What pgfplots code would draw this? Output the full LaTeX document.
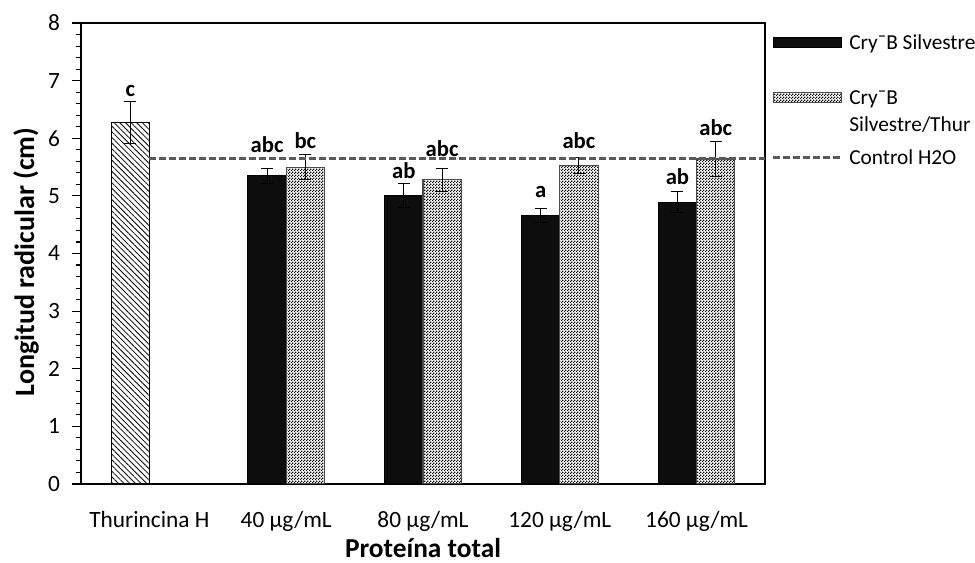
\documentclass[border=0pt]{standalone}
\usepackage{fontspec}
\setmainfont{Carlito}
\usepackage{pgfplots}
\usepackage{pgfplotstable}
\pgfplotsset{compat=1.18}
\usetikzlibrary{patterns.meta}

% small black/white checks for the Silvestre/Thur bars
\pgfdeclarepattern{name=checks, type=uncolored,
  bottom left={\pgfpointorigin}, top right={\pgfpoint{2pt}{2pt}},
  tile size={\pgfpoint{2pt}{2pt}},
  code={\pgfpathrectangle{\pgfpointorigin}{\pgfpoint{1pt}{1pt}}
        \pgfpathrectangle{\pgfpoint{1pt}{1pt}}{\pgfpoint{1pt}{1pt}}
        \pgfusepath{fill}}}

\pgfplotsset{
  barleg/.style={legend image code/.code={\draw[##1, line width=0.8pt] (0pt,1pt) rectangle (51pt,9pt);}},
  lineleg/.style={legend image code/.code={\draw[##1] (0pt,5pt) -- (51pt,5pt);}},
}

\pgfplotstableread{
x y e
0 6.27 0.36
}\thur
\pgfplotstableread{
x y e
1 5.35 0.13
2 5.01 0.21
3 4.66 0.12
4 4.89 0.18
}\silv
\pgfplotstableread{
x y e
1 5.50 0.21
2 5.28 0.20
3 5.53 0.14
4 5.64 0.31
}\silvthur
\pgfplotstableread{
x y lab
-0.14 6.72 c
0.86 5.75 abc
1.14 5.82 bc
1.86 5.31 ab
2.14 5.68 abc
2.86 4.97 a
3.14 5.83 abc
3.86 5.19 ab
4.14 6.05 abc
}\letters

\begin{document}
\begin{tikzpicture}
\begin{axis}[
  scale only axis,
  width=513pt, height=345.75pt,
  xmin=-0.5, xmax=4.5, ymin=0, ymax=8,
  xtick={0,...,4},
  xticklabels={Thurincina H, 40 µg/mL, 80 µg/mL, 120 µg/mL, 160 µg/mL},
  x tick style={draw=none},
  ytick={0,...,8},
  minor y tick num=4,
  tick align=outside,
  ytick pos=left,
  major tick length=6.5pt,
  minor tick length=3.75pt,
  y tick style={line width=0.8pt, black},
  axis line style={line width=1.1pt},
  /pgf/number format/assume math mode=true,
  ticklabel style={font=\fontsize{17.5}{20}\selectfont},
  xticklabel style={anchor=base, yshift=-26pt},
  yticklabel style={anchor=east, inner sep=0pt, xshift=-9pt},
  xlabel={Proteína total},
  ylabel={Longitud radicular (cm)},
  every axis x label/.style={at={(axis description cs:0.5,0)}, anchor=base, yshift=-55pt,
    inner sep=0pt, font=\bfseries\fontsize{20.5}{24}\selectfont},
  every axis y label/.style={at={(axis description cs:-0.0804,0.4816)}, anchor=center, rotate=90,
    font=\bfseries\fontsize{21}{24}\selectfont},
  legend style={at={(1,1)}, anchor=north west, xshift=5.25pt, yshift=-7.5pt,
    draw=none, fill=none, inner sep=0pt, row sep=0pt, column sep=5pt,
    nodes={inner sep=0pt, text depth=0pt},
    font=\fontsize{16}{20}\selectfont,
    cells={anchor=base west}},
  error bars/y dir=both,
  error bars/y explicit,
  error bars/error mark options={rotate=90, mark size=4.5pt, line width=0.8pt, black},
  error bars/error bar style={line width=0.8pt, black},
]
\addplot[ybar, bar width=0.28, bar shift=0, draw=black, line width=0.8pt,
  pattern={Lines[angle=-45, distance=3pt, line width=0.6pt]}, forget plot]
  table[x expr=\thisrow{x}-0.14, y=y, y error=e] {\thur};

\addplot[ybar, bar width=0.28, bar shift=0, draw=black, line width=0.8pt, fill=black!95, barleg]
  table[x expr=\thisrow{x}-0.14, y=y, y error=e] {\silv};
\addlegendentry{\rule{0pt}{12pt}Cry¯B Silvestre}

\addplot[ybar, bar width=0.28, bar shift=0, draw=black!70, line width=0.8pt,
  pattern=checks, barleg]
  table[x expr=\thisrow{x}+0.14, y=y, y error=e] {\silvthur};
\addlegendentry{\rule{0pt}{41.25pt}Cry¯B}
\addlegendimage{empty legend}
\addlegendentry{\rule{0pt}{20.25pt}Silvestre/Thur}

\addplot[black!65, line width=1.8pt, dash pattern=on 5pt off 2.5pt, lineleg]
  coordinates {(0,5.65) (4.5,5.65)};
\addlegendentry{\rule{0pt}{24.75pt}Control H2O}

\addplot[only marks, mark=none, forget plot, point meta=explicit symbolic,
  nodes near coords,
  nodes near coords style={anchor=base, inner sep=0pt, font=\bfseries\fontsize{17}{20}\selectfont}]
  table[x=x, y=y, meta=lab] {\letters};
\end{axis}
\pgfresetboundingbox
\path ([xshift=-60.75pt, yshift=-59.25pt]current axis.south west) rectangle
      ([xshift=157.5pt, yshift=17.25pt]current axis.north east);
\end{tikzpicture}
\end{document}
